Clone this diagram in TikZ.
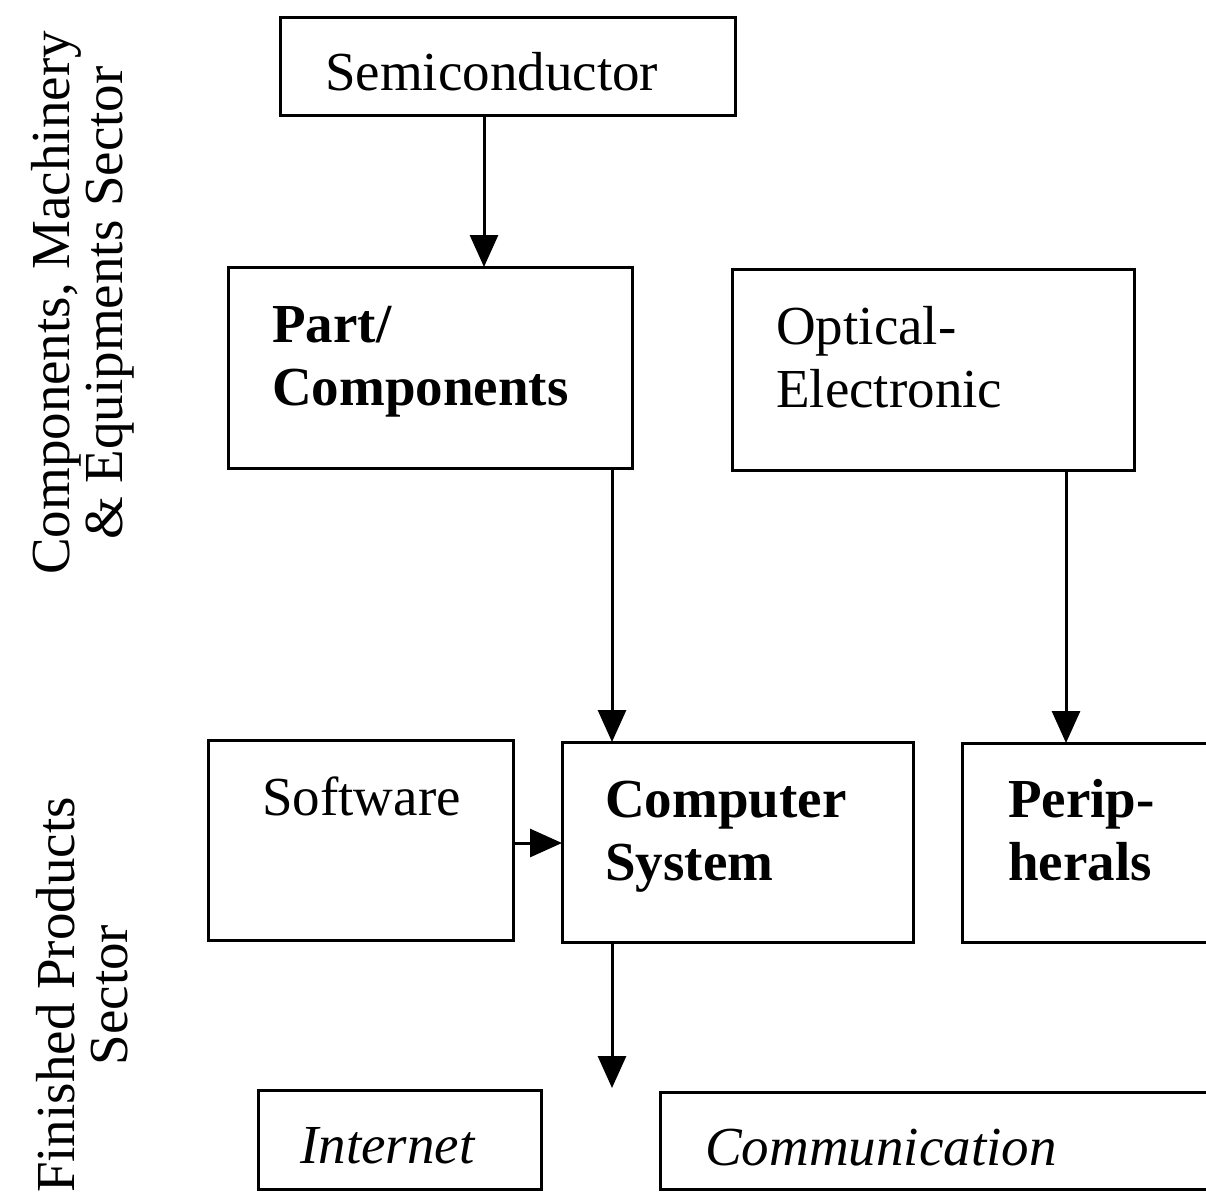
\documentclass[tikz,border=0pt]{standalone}
\usepackage{fontspec}
\setmainfont{Liberation Serif}
\usetikzlibrary{arrows.meta}
\begin{document}
\begin{tikzpicture}[x=1pt,y=-1pt,
  box/.style={draw, line width=3pt, rectangle, inner sep=0pt, outer sep=0pt},
  txt/.style={anchor=base west, inner sep=0pt, align=left, font=\fontsize{55}{63}\selectfont},
  side/.style={rotate=90, inner sep=0pt, align=center, font=\fontsize{55}{53}\selectfont},
  arr/.style={line width=3pt, -{Triangle[length=32pt,width=28pt]}}]
\useasboundingbox (0,0) rectangle (1206,1192);
\clip (0,0) rectangle (1206,1192);
\fill[white] (0,0) rectangle (1206,1192);
% boxes
\node[box, minimum width=455pt, minimum height=98pt] (semi) at (507.5,66) {};
\node[box, minimum width=404pt, minimum height=201pt] (part) at (430,367.5) {};
\node[box, minimum width=402pt, minimum height=201pt] (opt) at (933,369.5) {};
\node[box, minimum width=305pt, minimum height=200pt] (soft) at (360.5,840) {};
\node[box, minimum width=351pt, minimum height=200pt] (comp) at (737.5,842) {};
\node[box, minimum width=298pt, minimum height=199pt] (peri) at (1111,842.5) {};
\node[box, minimum width=283pt, minimum height=99pt] (inet) at (399.5,1139.5) {};
\node[box, minimum width=600pt, minimum height=97pt] (comm) at (960,1140.5) {};
% texts (base anchor = last line's baseline)
\node[txt] (semit) at (325,90) {Semiconductor};
\node[txt, font=\fontsize{55}{63}\selectfont\bfseries] (partt) at (272,405) {Part/\\Components};
\node[txt] (optt) at (776,407) {Optical-\\Electronic};
\node[txt] (softt) at (262,815) {Software};
\node[txt, font=\fontsize{55}{63}\selectfont\bfseries] (compt) at (605,880) {Computer\\System};
\node[txt, font=\fontsize{55}{63}\selectfont\bfseries] (perit) at (1008,880) {Perip-\\herals};
\node[txt, font=\fontsize{55}{63}\selectfont\itshape] (inett) at (300,1163) {Internet};
\node[txt, font=\fontsize{55}{63}\selectfont\itshape] (commt) at (705,1165) {Communication};
% side labels
\node[side] (lab1) at (83,303) {Components, Machinery\\\& Equipments Sector};
\node[side] (lab2) at (82,995) {Finished Products\\Sector};
% connectors
\coordinate (c0) at (484,0);
\coordinate (c1) at (612,0);
\coordinate (c2) at (1066,0);
\coordinate (c3) at (0,843);
\coordinate (out) at (612,1088);
\draw[arr] (semi.south -| c0) -- (part.north -| c0);
\draw[arr] (part.south -| c1) -- (comp.north -| c1);
\draw[arr] (opt.south -| c2) -- (peri.north -| c2);
\draw[arr] (soft.east |- c3) -- (comp.west |- c3);
\draw[arr] (comp.south -| c1) -- (out);
\end{tikzpicture}
\end{document}
